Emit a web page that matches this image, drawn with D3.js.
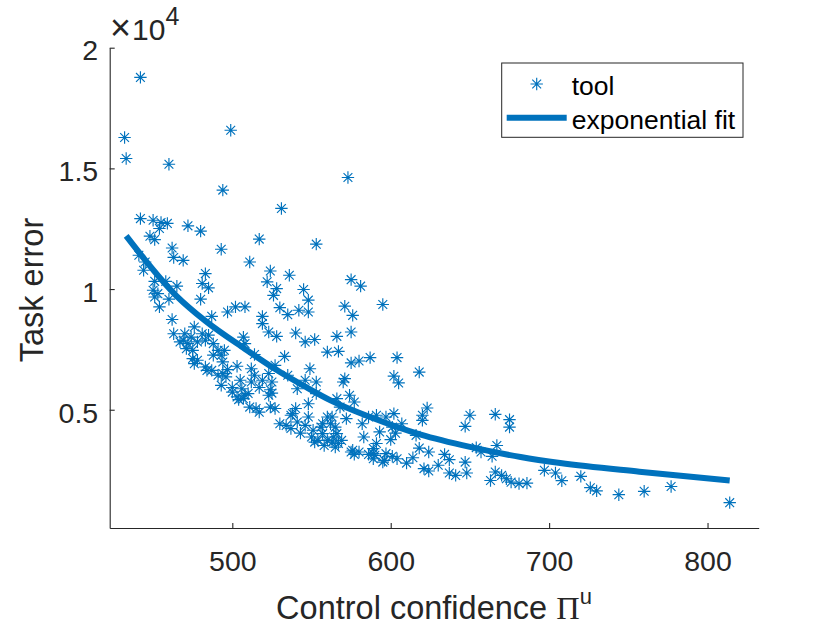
<!DOCTYPE html>
<html>
<head>
<meta charset="utf-8">
<script src="https://cdn.jsdelivr.net/npm/d3@7"></script>
<style>
  html, body { margin: 0; padding: 0; background: #fff; }
  svg { display: block; font-family: "Liberation Sans", Arial, sans-serif; }
</style>
</head>
<body>
<svg id="chart" width="840" height="630"></svg>
<script>
// scatter: control confidence vs task error
const toolX = [442, 432, 433, 460, 499, 494, 573, 531, 442, 450, 455, 459, 454, 472, 480, 448, 451, 517, 553, 462,
  493, 463, 469, 441, 511, 445, 444, 483, 524, 536, 451, 458, 465, 481, 485, 522, 528, 545, 450, 453,
  451, 460, 526, 548, 454, 480, 462, 487, 497, 502, 508, 519, 530, 535, 542, 548, 519, 523, 528, 540,
  546, 552, 560, 507, 508, 476, 463, 470, 469, 474, 481, 485, 467, 472, 478, 483, 488, 471, 475, 491,
  495, 488, 493, 514, 533, 475, 478, 494, 476, 483, 503, 512, 527, 549, 497, 484, 487, 491, 496, 494,
  514, 523, 535, 505, 512, 519, 525, 546, 553, 493, 500, 506, 517, 524, 541, 500, 510, 525, 503, 508,
  523, 553, 504, 507, 548, 511, 515, 524, 527, 517, 540, 537, 548, 560, 530, 534, 541, 546, 537, 543,
  551, 556, 550, 554, 560, 557, 552, 538, 566, 567, 576, 583, 589, 596, 591, 562, 572, 591, 597, 575,
  581, 571, 576, 595, 566, 575, 567, 575, 580, 587, 604, 571, 570, 602, 605, 618, 566, 574, 577, 568,
  563, 557, 565, 582, 586, 602, 607, 601, 593, 603, 623, 620, 620, 616, 650, 647, 666, 675, 675, 564,
  563, 569, 558, 565, 600, 589, 575, 580, 577, 586, 590, 597, 601, 604, 595, 589, 610, 614, 618, 624,
  634, 637, 630, 647, 621, 624, 637, 641, 648, 654, 657, 664, 667, 666, 663, 670, 673, 676, 681, 686,
  697, 704, 708, 720, 726, 730, 744, 760, 777, 814];
const toolY = [18770, 16280, 15410, 15170, 16580, 14100, 14620, 13340, 12920, 12850, 12760, 12720, 12510, 12620, 12400, 12190, 12050, 12070, 11860, 11700,
  11650, 11310, 11190, 11400, 11120, 11120, 10780, 10640, 10750, 10570, 10320, 10320, 10120, 10230, 10050, 10300, 10020, 9980, 9950, 9810,
  9670, 9580, 9740, 9540, 9260, 9580, 8740, 8870, 9050, 9260, 9260, 8870, 9230, 8940, 9120, 9050, 8570, 8220, 8040, 8180,
  7810, 7910, 7390, 8010, 7740, 8430, 8150, 8150, 7880, 8010, 8150, 8090, 7810, 7740, 7810, 7880, 7740, 7530, 7460, 7460,
  7460, 7260, 7260, 7290, 7210, 7120, 7050, 6980, 6910, 6770, 6800, 6700, 6840, 6700, 6660, 6630, 6630, 6430, 6360, 6500,
  6430, 6500, 6430, 6220, 6150, 6220, 6150, 6220, 6150, 6010, 5920, 5870, 5920, 5830, 5870, 5730, 5670, 5690, 5530, 5600,
  5600, 5670, 5420, 5460, 5250, 5110, 5050, 5110, 5050, 4900, 5050, 4770, 4700, 4700, 4420, 4350, 4490, 4350, 4220, 4030,
  4150, 4280, 3870, 3730, 3730, 4010, 3660, 4840, 4010, 3600, 3320, 3870, 3180, 2900, 3600, 4420, 4630, 4770, 4700, 10390,
  10120, 9290, 8910, 9360, 8040, 8220, 7420, 6940, 7020, 7160, 7160, 6290, 6150, 6390, 6110, 6560, 5460, 5600, 5320, 5110,
  4700, 4420, 4280, 4420, 4700, 4840, 4420, 4280, 4080, 4030, 5070, 4770, 4560, 3940, 4770, 4310, 4810, 4590, 4280, 3870,
  3660, 3730, 3520, 3450, 3760, 3390, 3250, 3250, 3150, 3150, 3110, 3180, 3070, 2970, 2830, 2970, 2790, 3010, 3410, 3250,
  3150, 2930, 2700, 2830, 2560, 2460, 2380, 2280, 2380, 3430, 3250, 3070, 3520, 2420, 2070, 2280, 2140, 2000, 1940, 1960,
  2490, 2380, 2060, 2240, 1770, 1640, 1480, 1620, 1820, 1150];

// exponential fit curve, sampled along the drawn line
const fitX = [433, 465, 483, 508, 527, 546, 562, 587, 619, 650, 682, 707, 757, 814];
const fitY = [12200, 9700, 8680, 7520, 6690, 5960, 5390, 4700, 3970, 3460, 3040, 2790, 2430, 2070];

const xTicks = [500, 600, 700, 800];
const yTicks = [5000, 10000, 15000, 20000];
const yTickLabels = ['0.5', '1', '1.5', '2'];

const blue = '#0072BD';
const axisColor = '#262626';

const svg = d3.select('#chart');
svg.append('rect').attr('width', 840).attr('height', 630).attr('fill', '#fff');

const x = d3.scaleLinear().domain([422.6, 832.3]).range([109.7, 758.7]);
const y = d3.scaleLinear().domain([100, 20000]).range([528, 47.7]);

const asterisk = 'M-6.2,0H6.2M0,-6.2V6.2M-4.4,-4.4L4.4,4.4M-4.4,4.4L4.4,-4.4';

// axes (box off, ticks pointing in)
const xAxis = svg.append('g')
    .attr('transform', `translate(0,${y.range()[0]})`)
    .call(d3.axisBottom(x).tickValues(xTicks).tickSizeInner(-5).tickSizeOuter(0).tickPadding(23));

const yAxis = svg.append('g')
    .attr('transform', `translate(${x.range()[0]},0)`)
    .call(d3.axisLeft(y).tickValues(yTicks).tickSizeInner(-5).tickSizeOuter(0).tickPadding(11.5)
        .tickFormat((d, i) => yTickLabels[i]));

[xAxis, yAxis].forEach(g => {
    g.select('.domain').attr('stroke', axisColor).attr('stroke-width', 1.1);
    g.selectAll('.tick line').attr('stroke', axisColor).attr('stroke-width', 1.1);
    g.selectAll('.tick text')
        .attr('fill', axisColor)
        .attr('font-size', '28.5px')
        .attr('font-family', '"Liberation Sans", Arial, sans-serif');
});
yAxis.selectAll('.tick text').attr('dy', '0.43em');

// exponent label
const expLabel = svg.append('text')
    .attr('x', 110)
    .attr('y', 40)
    .attr('fill', axisColor)
    .attr('font-size', '30px');
expLabel.append('tspan').attr('font-size', '36px').attr('font-weight', 300).text('\u00d7');
expLabel.append('tspan').attr('dx', 1).text('10');
expLabel.append('tspan').attr('font-size', '25px').attr('dy', -15).text('4');

// scatter points, then the fit on top
svg.append('g')
    .selectAll('path')
    .data(toolX.map((d, i) => [d, toolY[i]]))
    .enter()
    .append('path')
    .attr('transform', d => `translate(${x(d[0])},${y(d[1])})`)
    .attr('d', asterisk)
    .attr('fill', 'none')
    .attr('stroke', blue)
    .attr('stroke-width', 1.15);

const fitLine = d3.line()
    .x(d => x(d[0]))
    .y(d => y(d[1]))
    .curve(d3.curveMonotoneX);

svg.append('path')
    .datum(fitX.map((d, i) => [d, fitY[i]]))
    .attr('d', fitLine)
    .attr('fill', 'none')
    .attr('stroke', blue)
    .attr('stroke-width', 6);

// axis labels
const xLabel = svg.append('text')
    .attr('x', 434)
    .attr('y', 619)
    .attr('text-anchor', 'middle')
    .attr('fill', axisColor)
    .attr('font-size', '32.5px');
xLabel.append('tspan').text('Control confidence ');
xLabel.append('tspan').attr('font-family', '"Liberation Serif", serif').text('\u03a0');
xLabel.append('tspan').attr('font-size', '22px').attr('dy', -15).text('u');

svg.append('text')
    .attr('transform', 'translate(43,290) rotate(-90)')
    .attr('text-anchor', 'middle')
    .attr('fill', axisColor)
    .attr('font-size', '32.5px')
    .text('Task error');

// legend
const legend = svg.append('g');
legend.append('rect')
    .attr('x', 501.7).attr('y', 63)
    .attr('width', 241.3).attr('height', 74.3)
    .attr('fill', '#fff')
    .attr('stroke', axisColor)
    .attr('stroke-width', 1);
legend.append('path')
    .attr('transform', 'translate(536.7,84)')
    .attr('d', asterisk)
    .attr('fill', 'none')
    .attr('stroke', blue)
    .attr('stroke-width', 1.15);
legend.append('line')
    .attr('x1', 506.7).attr('x2', 566.7)
    .attr('y1', 117.7).attr('y2', 117.7)
    .attr('stroke', blue)
    .attr('stroke-width', 6);
legend.append('text')
    .attr('x', 571.7).attr('y', 95)
    .attr('font-size', '26.5px')
    .attr('fill', '#000')
    .text('tool');
legend.append('text')
    .attr('x', 571.7).attr('y', 129)
    .attr('font-size', '26.5px')
    .attr('fill', '#000')
    .text('exponential fit');
</script>
</body>
</html>
